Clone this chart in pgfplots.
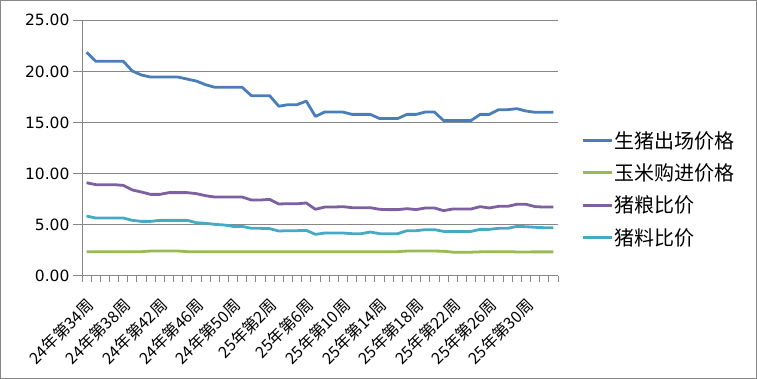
\documentclass[border=0pt]{standalone}
\usepackage{fontspec}
\setmainfont{Noto Sans CJK SC}
\newfontfamily\dejavu{DejaVu Sans}
\usepackage{pgfplots}
\pgfplotsset{compat=1.18}
\definecolor{cBlue}{HTML}{4A7EBB}
\definecolor{cGreen}{HTML}{98B954}
\definecolor{cPurple}{HTML}{7D60A0}
\definecolor{cCyan}{HTML}{46AAC5}
\definecolor{axgray}{HTML}{878787}

\pgfplotstableread{
i hog corn hgr hfr
0 21.87 2.38 9.12 5.86
1 21.00 2.38 8.93 5.67
2 21.00 2.38 8.93 5.67
3 21.00 2.38 8.93 5.67
4 21.00 2.38 8.86 5.67
5 20.04 2.38 8.41 5.44
6 19.65 2.38 8.21 5.34
7 19.45 2.44 7.98 5.34
8 19.45 2.44 7.98 5.44
9 19.45 2.44 8.15 5.44
10 19.45 2.44 8.15 5.44
11 19.25 2.38 8.15 5.44
12 19.06 2.38 8.05 5.21
13 18.70 2.38 7.85 5.15
14 18.45 2.38 7.72 5.05
15 18.45 2.38 7.72 4.99
16 18.45 2.38 7.72 4.85
17 18.45 2.38 7.72 4.85
18 17.63 2.38 7.43 4.66
19 17.63 2.38 7.43 4.66
20 17.63 2.38 7.49 4.63
21 16.60 2.38 7.04 4.40
22 16.75 2.38 7.07 4.43
23 16.75 2.38 7.06 4.43
24 17.10 2.38 7.14 4.46
25 15.60 2.38 6.52 4.07
26 16.03 2.38 6.74 4.20
27 16.03 2.38 6.74 4.20
28 16.03 2.38 6.78 4.20
29 15.80 2.38 6.68 4.14
30 15.80 2.38 6.68 4.14
31 15.80 2.38 6.68 4.30
32 15.40 2.38 6.52 4.14
33 15.40 2.38 6.49 4.14
34 15.40 2.38 6.49 4.14
35 15.80 2.44 6.58 4.43
36 15.80 2.44 6.49 4.43
37 16.03 2.44 6.65 4.53
38 16.03 2.44 6.65 4.53
39 15.20 2.42 6.39 4.36
40 15.20 2.33 6.55 4.36
41 15.20 2.33 6.55 4.36
42 15.20 2.33 6.55 4.36
43 15.80 2.36 6.78 4.56
44 15.80 2.38 6.65 4.56
45 16.26 2.38 6.81 4.66
46 16.26 2.38 6.81 4.66
47 16.36 2.35 7.01 4.85
48 16.13 2.35 7.01 4.82
49 16.00 2.36 6.78 4.76
50 16.00 2.36 6.74 4.72
51 16.00 2.36 6.74 4.72
}\datatable

\begin{document}
\begin{tikzpicture}
\path[use as bounding box] (0pt,0pt) rectangle (757pt,379pt);
\draw[color=axgray, line width=1pt] (0.5pt,0.5pt) rectangle (756.5pt,378.5pt);
\begin{axis}[
  at={(82pt,103pt)}, anchor=south west,
  width=476pt, height=255.7pt, scale only axis,
  xmin=-0.5, xmax=51.5, ymin=0, ymax=25,
  axis lines*=left,
  axis line style={color=axgray, line width=1pt},
  ytick={0,5,...,25},
  ymajorgrids,
  grid style={color=axgray, line width=1pt},
  tick align=outside,
  major tick length=9pt,
  minor tick length=6pt,
  tick style={color=axgray, line width=1pt},
  xtick={0,4,...,48},
  minor xtick={-0.5,0.5,...,51.5},
  major x tick style={draw=none},
  xticklabels={24年第34周,24年第38周,24年第42周,24年第46周,24年第50周,25年第2周,25年第6周,25年第10周,25年第14周,25年第18周,25年第22周,25年第26周,25年第30周},
  xticklabel style={font=\fontsize{16}{19}\selectfont, xshift=4.5pt, yshift=-17pt, rotate=45, anchor=east, inner sep=0pt},
  yticklabel style={font=\dejavu\fontsize{15.5}{18}\selectfont},
  /pgf/number format/assume math mode=true,
  /pgf/number format/fixed, /pgf/number format/fixed zerofill, /pgf/number format/precision=2,
  legend style={at={(1.042,0.340)}, anchor=west, draw=none, fill=none,
    font=\fontsize{20}{24}\selectfont, row sep=10pt},
  legend cell align=left,
  legend image code/.code={\draw[#1] (-5pt,0pt) -- (24pt,0pt);},
  every axis plot/.append style={line width=2.8pt, line join=round, mark=none},
]
\addplot[color=cBlue] table[x=i, y=hog] {\datatable};
\addplot[color=cGreen] table[x=i, y=corn] {\datatable};
\addplot[color=cPurple] table[x=i, y=hgr] {\datatable};
\addplot[color=cCyan] table[x=i, y=hfr] {\datatable};
\legend{生猪出场价格,玉米购进价格,猪粮比价,猪料比价}
\end{axis}
\end{tikzpicture}
\end{document}
